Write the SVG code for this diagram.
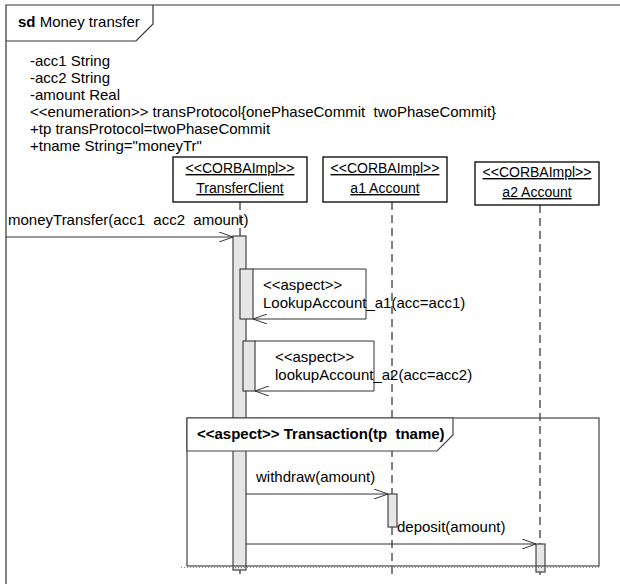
<svg xmlns="http://www.w3.org/2000/svg" width="620" height="584" viewBox="0 0 620 584" xml:space="preserve">
<defs>
<style>
text{font-family:"Liberation Sans",Arial,sans-serif;font-size:15px;fill:#000;white-space:pre}
.b{font-weight:bold}
.u{text-decoration:underline;font-size:14px}
.box{fill:#fff;stroke:#000;stroke-width:1.3}
.life{stroke:#000;stroke-width:1;stroke-dasharray:8 5;fill:none}
.act{fill:#e6e6e6;stroke:#444;stroke-width:1.2}
.msg{stroke:#333;stroke-width:1;fill:none}
.frm{fill:none;stroke:#333;stroke-width:1.2}
</style>
<marker id="open" viewBox="0 0 14 10" refX="14" refY="5" markerWidth="14" markerHeight="10" markerUnits="userSpaceOnUse" orient="auto">
<path d="M0,0 L14,5 L0,10" fill="none" stroke="#333" stroke-width="1"/>
</marker>
</defs>
<g id="frame">
<path class="frm" d="M6,600 V5 H630"/>
<path class="frm" d="M6,41 H136 L153,24 V5"/>
<text x="18" y="27"><tspan class="b">sd</tspan> Money transfer</text>
<text x="30" y="66">-acc1 String</text>
<text x="30" y="83">-acc2 String</text>
<text x="30" y="100">-amount Real</text>
<text x="30" y="117">&lt;&lt;enumeration&gt;&gt; transProtocol{onePhaseCommit  twoPhaseCommit}</text>
<text x="30" y="134">+tp transProtocol=twoPhaseCommit</text>
<text x="30" y="151">+tname String="moneyTr"</text>
</g>
<g id="transferClient">
<line class="life" x1="240" y1="202" x2="240" y2="575"/>
<rect class="box" x="173" y="157" width="134" height="45"/>
<text class="u" x="240" y="173" text-anchor="middle">&lt;&lt;CORBAImpl&gt;&gt;</text>
<text class="u" x="240" y="193" text-anchor="middle">TransferClient</text>
</g>
<g id="a1Account">
<line class="life" x1="392" y1="202" x2="392" y2="575"/>
<rect class="box" x="323" y="157" width="124" height="45"/>
<text class="u" x="385" y="173" text-anchor="middle">&lt;&lt;CORBAImpl&gt;&gt;</text>
<text class="u" x="385" y="193" text-anchor="middle">a1 Account</text>
</g>
<g id="a2Account">
<line class="life" x1="540" y1="205" x2="540" y2="575"/>
<rect class="box" x="475" y="162" width="124" height="43"/>
<text class="u" x="537" y="177" text-anchor="middle">&lt;&lt;CORBAImpl&gt;&gt;</text>
<text class="u" x="537" y="197" text-anchor="middle">a2 Account</text>
</g>
<g id="activations">
<rect class="act" x="233" y="236" width="13" height="334"/>
<rect class="act" x="240" y="269" width="13" height="50"/>
<rect class="act" x="243" y="341" width="12" height="50"/>
<rect class="act" x="388" y="494" width="9" height="33"/>
<rect class="act" x="536" y="544" width="9" height="28"/>
</g>
<g id="fragment">
<rect x="187" y="418" width="412" height="148" fill="none" stroke="#444" stroke-width="1.2"/>
<path d="M187,451 H437 L453,435 V418 H187 Z" fill="#fff" stroke="#444" stroke-width="1.2"/>
<line x1="181" y1="567.5" x2="601" y2="567.5" stroke="#888" stroke-width="1" stroke-dasharray="1 2"/>
<text class="b" x="197" y="439">&lt;&lt;aspect&gt;&gt; Transaction(tp  tname)</text>
</g>
<g id="connectors">
<line class="msg" x1="6" y1="237" x2="233" y2="237" marker-end="url(#open)"/>
<text x="8" y="225">moneyTransfer(acc1  acc2  amount)</text>
<path class="msg" d="M253,269 H366 V319 H253" marker-end="url(#open)"/>
<text x="263" y="290">&lt;&lt;aspect&gt;&gt;</text>
<text x="263" y="308">LookupAccount_a1(acc=acc1)</text>
<path class="msg" d="M255,341 H374 V391 H255" marker-end="url(#open)"/>
<text x="275" y="362">&lt;&lt;aspect&gt;&gt;</text>
<text x="275" y="380">lookupAccount_a2(acc=acc2)</text>
<line class="msg" x1="246" y1="494" x2="388" y2="494" marker-end="url(#open)"/>
<text x="256" y="482">withdraw(amount)</text>
<line class="msg" x1="246" y1="544" x2="536" y2="544" marker-end="url(#open)"/>
<text x="397" y="532">deposit(amount)</text>
</g>
</svg>
